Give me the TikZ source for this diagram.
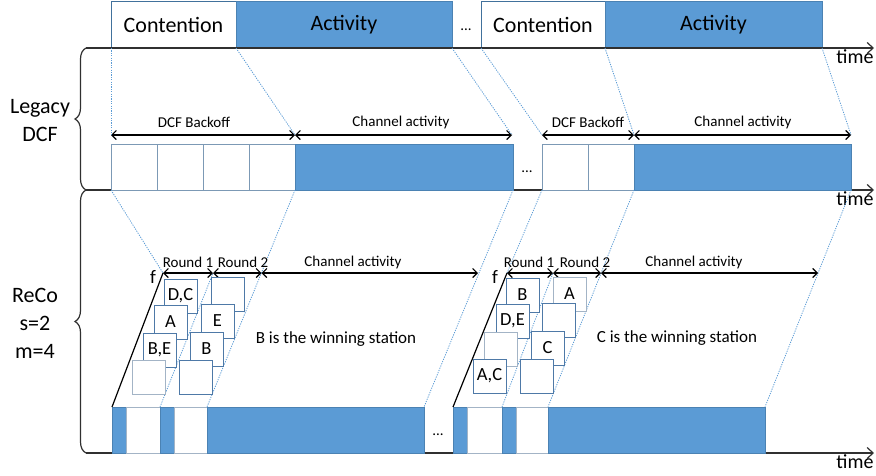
\documentclass[tikz,border=0pt]{standalone}
\usepackage{fontspec}
\setmainfont{Carlito}
\usetikzlibrary{arrows.meta,decorations.pathreplacing}
\definecolor{actblue}{HTML}{5B9BD5}
\definecolor{edgeblue}{HTML}{41719C}
\definecolor{boxblue}{HTML}{4E79A7}
\definecolor{boxgray}{HTML}{A3B4C6}
\definecolor{axisgray}{HTML}{303030}
\begin{document}
\begin{tikzpicture}[x=1pt,y=-1pt,
 rect/.style={draw, inner sep=0pt, outer sep=0pt, anchor=north west},
 actbox/.style={rect, draw=edgeblue!60!actblue, fill=actblue, line width=0.8pt},
 wbox/.style={rect, draw=edgeblue, fill=white, line width=0.8pt},
 slot/.style={rect, draw=boxgray!60!edgeblue, fill=white, line width=0.8pt, minimum width=46pt, minimum height=46pt},
 bar/.style={actbox, minimum height=46pt},
 wbar/.style={rect, draw=boxgray, fill=white, line width=0.8pt, minimum height=46pt},
 sq/.style={rect, draw=boxblue, fill=white, line width=0.8pt, minimum width=33pt, minimum height=34pt, font=\fontsize{18.5}{20}\selectfont},
 sqg/.style={sq, draw=boxgray},
 big/.style={font=\fontsize{22}{28}\selectfont},
 small/.style={font=\fontsize{15}{18}\selectfont},
 mid/.style={font=\fontsize{17}{20}\selectfont},
 timelbl/.style={font=\fontsize{20}{22}\selectfont},
 dim/.style={{Straight Barb[length=4.5pt,width=9pt]}-{Straight Barb[length=4.5pt,width=9pt]}, line width=1.2pt, black},
 axis/.style={-{Straight Barb[length=6pt,width=11pt]}, line width=1.2pt, axisgray},
 guide/.style={actblue, line width=0.8pt, dash pattern=on 1.2pt off 1.2pt},
 bracestyle/.style={decorate, decoration={brace, amplitude=11pt}, line width=1.2pt, axisgray}
]
\useasboundingbox (0,0) rectangle (876,475);

% ---------- top row ----------
\node[wbox, big, minimum width=125pt, minimum height=47pt] (con1) at (111,1) {Contention};
\node[actbox, big, minimum width=216pt, minimum height=47pt] (act1) at (236,1) {Activity};
\node[small] (dotsT) at (466,30) {...};
\node[wbox, big, minimum width=124pt, minimum height=47pt] (con2) at (481,1) {Contention};
\node[actbox, big, minimum width=217pt, minimum height=47pt] (act2) at (605,1) {Activity};

% ---------- axes ----------
\coordinate (ax1s) at (86,48);  \coordinate (ax1e) at (874,48);
\coordinate (ax2s) at (86,190); \coordinate (ax2e) at (874,190);
\coordinate (ax3s) at (86,453); \coordinate (ax3e) at (874,453);
\draw[axis] (ax1s) -- (ax1e);
\draw[axis] (ax2s) -- (ax2e);
\draw[axis] (ax3s) -- (ax3e);
\node[timelbl] (t1) at (855,57) {time};
\node[timelbl] (t2) at (855,199) {time};
\node[timelbl] (t3) at (855,462) {time};

% ---------- braces and side labels ----------
\draw[bracestyle] (ax2s) -- (ax1s);
\draw[bracestyle] (ax3s) -- (ax2s);
\node[big, align=center] (leg) at (40,121) {Legacy\\DCF};
\node[big, align=center] (reco) at (35,323) {ReCo\\s=2\\m=4};

% ---------- legacy DCF row ----------
\node[slot] (s1) at (111,144) {};
\node[slot] (s2) at (157,144) {};
\node[slot] (s3) at (203,144) {};
\node[slot] (s4) at (249,144) {};
\node[bar, minimum width=218pt] (ch1) at (295,144) {};
\node[small] (dotsL) at (527,172) {...};
\node[slot] (s5) at (542,144) {};
\node[slot] (s6) at (588,144) {};
\node[bar, minimum width=217pt] (ch2) at (634,144) {};

\coordinate (L1a) at (111,135); \coordinate (L1b) at (295,135); \coordinate (L1c) at (512,135);
\coordinate (L2a) at (542,135); \coordinate (L2b) at (634,135); \coordinate (L2c) at (851,135);
\draw[dim] (L1a) -- (L1b);
\draw[dim] (L1b) -- (L1c);
\draw[dim] (L2a) -- (L2b);
\draw[dim] (L2b) -- (L2c);
\node[small] (lb1) at (194,122) {DCF Backoff};
\node[small] (lc1) at (401,122) {Channel activity};
\node[small] (lb2) at (588,122) {DCF Backoff};
\node[small] (lc2) at (743,122) {Channel activity};

% ---------- ReCo bars ----------
\node[bar, minimum width=14pt] (b1a) at (112,407) {};
\node[wbar, minimum width=34pt] (b1b) at (126,407) {};
\node[bar, minimum width=14pt] (b1c) at (160,407) {};
\node[wbar, minimum width=33pt] (b1d) at (174,407) {};
\node[bar, minimum width=217pt] (b1e) at (207,407) {};
\node[small] (dotsR) at (438,435) {...};
\node[bar, minimum width=14pt] (b2a) at (453,407) {};
\node[wbar, minimum width=35pt] (b2b) at (467,407) {};
\node[bar, minimum width=14pt] (b2c) at (502,407) {};
\node[wbar, minimum width=32pt] (b2d) at (516,407) {};
\node[bar, minimum width=217pt] (b2e) at (548,407) {};

% ReCo arrow points
\coordinate (f1) at (163,273); \coordinate (R1b) at (213,273);
\coordinate (R1c) at (261.5,273); \coordinate (R1d) at (478,273);
\coordinate (f2) at (507,273); \coordinate (R2b) at (553,273);
\coordinate (R2c) at (601,273); \coordinate (R2d) at (818,273);

% ---------- dotted guide lines ----------
\draw[guide] (con1.south west) -- (L1a);
\draw[guide] (con1.south east) -- (L1b);
\draw[guide] (act1.south east) -- (L1c);
\draw[guide] (con2.south west) -- (L2a);
\draw[guide] (con2.south east) -- (L2b);
\draw[guide] (act2.south east) -- (L2c);
\draw[guide] (s1.south west) -- (f1);
\draw[guide] (s4.south east) -- (b1e.north west);
\draw[guide] (b1c.north west) -- (R1b);
\draw[guide] (ch1.south east) -- (b1e.north east);
\draw[guide] (s5.south west) -- (f2);
\draw[guide] (s6.south east) -- (b2e.north west);
\draw[guide] (b2c.north west) -- (R2b);
\draw[guide] (ch2.south east) -- (b2e.north east);

% ---------- ReCo arrows and labels ----------
\draw[line width=1.2pt, black] (b1a.north west) -- (f1);
\draw[line width=1.2pt, black] (b2a.north west) -- (f2);
\draw[dim] (f1) -- (R1b);
\draw[dim] (R1b) -- (R1c);
\draw[dim] (R1c) -- (R1d);
\draw[dim] (f2) -- (R2b);
\draw[dim] (R2b) -- (R2c);
\draw[dim] (R2c) -- (R2d);
\node[small] (r11) at (188,262) {Round 1};
\node[small] (r12) at (243,262) {Round 2};
\node[small] (rc1) at (353,262) {Channel activity};
\node[small] (r21) at (529,262) {Round 1};
\node[small] (r22) at (585,262) {Round 2};
\node[small] (rc2) at (694,262) {Channel activity};
\node[font=\fontsize{19}{20}\selectfont] (fl1) at (153,277) {f};
\node[font=\fontsize{19}{20}\selectfont] (fl2) at (495,277) {f};

% ---------- staircase boxes, cluster 1 ----------
\node[sq]  (q11) at (164,279) {D,C};
\node[sq]  (q12) at (154,305) {A};
\node[sq]  (q13) at (143,333) {B,E};
\node[sqg] (q14) at (132,360) {};
\node[sq]  (q21) at (211,277) {};
\node[sq]  (q22) at (201,304) {E};
\node[sq]  (q23) at (190,332) {B};
\node[sq]  (q24) at (179,360) {};
% ---------- staircase boxes, cluster 2 ----------
\node[sq]  (p11) at (506,278) {B};
\node[sq]  (p12) at (496,304) {D,E};
\node[sqg] (p13) at (484,332) {};
\node[sq]  (p14) at (473,359) {A,C};
\node[sqg] (p21) at (553,277) {A};
\node[sq]  (p22) at (542,303) {};
\node[sq]  (p23) at (531,331) {C};
\node[sq]  (p24) at (520,359) {};

\node[mid] (win1) at (336,339) {B is the winning station};
\node[mid] (win2) at (677,338) {C is the winning station};
\end{tikzpicture}
\end{document}
